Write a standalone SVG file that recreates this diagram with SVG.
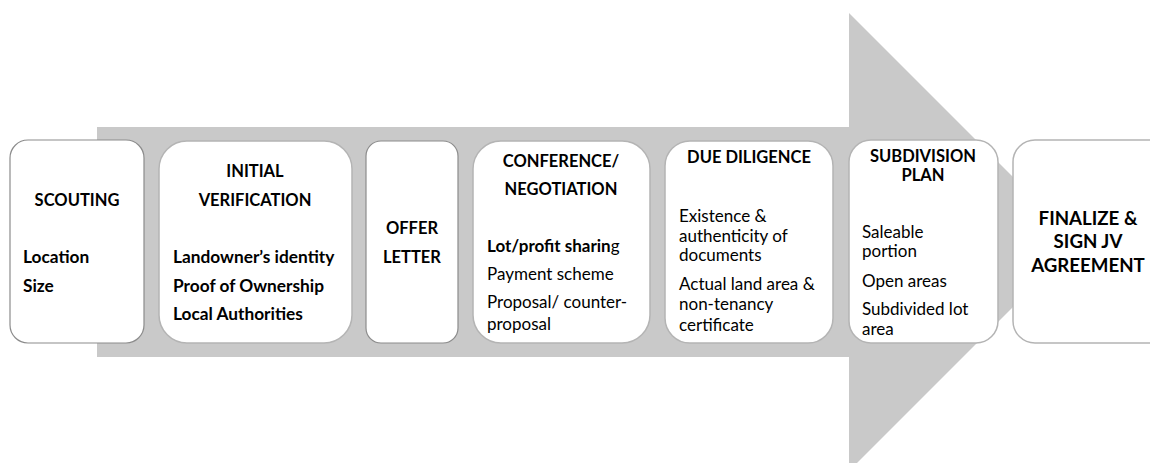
<svg xmlns="http://www.w3.org/2000/svg" width="1150" height="463" viewBox="0 0 1150 463">
<style>
.box{fill:#fff;stroke:#8c8c8c;stroke-width:1.2}
.soft{fill:#fff;stroke:#b4b4b4;stroke-width:1.5}
text{font-family:Lato,"Open Sans","Liberation Sans",sans-serif;fill:#000;font-size:17px}
.h{font-weight:bold;text-anchor:middle;font-size:16.5px}
.b{font-weight:bold;font-size:17.3px}
.big{font-weight:bold;text-anchor:middle;font-size:18.7px}
</style>
<rect width="1150" height="463" fill="#fff"/>
<g id="connectors">
<path d="M97,127 H849 V13 L1078,242 L849,471 V357 H97 Z" fill="#c9c9c9"/>
</g>
<g id="scouting">
<rect class="box" x="10" y="140" width="134" height="203" rx="18"/>
<text class="h" x="77" y="206">SCOUTING</text>
<text class="b" x="23" y="263">Location</text>
<text class="b" x="23" y="292">Size</text>
</g>
<g id="initial-verification">
<rect class="soft" x="159" y="141" width="193" height="202" rx="28"/>
<text class="h" x="255" y="177">INITIAL</text>
<text class="h" x="255" y="206">VERIFICATION</text>
<text class="b" x="173" y="263">Landowner’s identity</text>
<text class="b" x="173" y="292">Proof of Ownership</text>
<text class="b" x="173" y="320">Local Authorities</text>
</g>
<g id="offer-letter">
<rect class="box" x="366" y="141" width="92" height="202" rx="15"/>
<text class="h" x="412" y="234">OFFER</text>
<text class="h" x="412" y="263">LETTER</text>
</g>
<g id="conference">
<rect class="soft" x="473" y="141" width="177" height="202" rx="28"/>
<text class="h" x="561" y="167">CONFERENCE/</text>
<text class="h" x="561" y="195">NEGOTIATION</text>
<text x="487" y="252"><tspan font-weight="bold">Lot/profit sharin</tspan>g</text>
<text x="487" y="280">Payment scheme</text>
<text x="487" y="308">Proposal/ counter-</text>
<text x="487" y="330">proposal</text>
</g>
<g id="due-diligence">
<rect class="soft" x="665" y="141" width="168" height="202" rx="25"/>
<text class="h" x="749" y="163">DUE DILIGENCE</text>
<text x="679" y="222">Existence &amp;</text>
<text x="679" y="242">authenticity of</text>
<text x="679" y="261">documents</text>
<text x="679" y="290">Actual land area &amp;</text>
<text x="679" y="310">non-tenancy</text>
<text x="679" y="331">certificate</text>
</g>
<g id="subdivision-plan">
<rect class="soft" x="849" y="140" width="149" height="203" rx="22"/>
<text class="h" x="923" y="162">SUBDIVISION</text>
<text class="h" x="923" y="181">PLAN</text>
<text x="862" y="238">Saleable</text>
<text x="862" y="257">portion</text>
<text x="862" y="287">Open areas</text>
<text x="862" y="315">Subdivided lot</text>
<text x="862" y="335">area</text>
</g>
<g id="finalize">
<rect class="soft" x="1013" y="140" width="160" height="203" rx="22"/>
<text class="big" x="1088" y="225">FINALIZE &amp;</text>
<text class="big" x="1088" y="248">SIGN JV</text>
<text class="big" x="1088" y="272">AGREEMENT</text>
</g>
</svg>
